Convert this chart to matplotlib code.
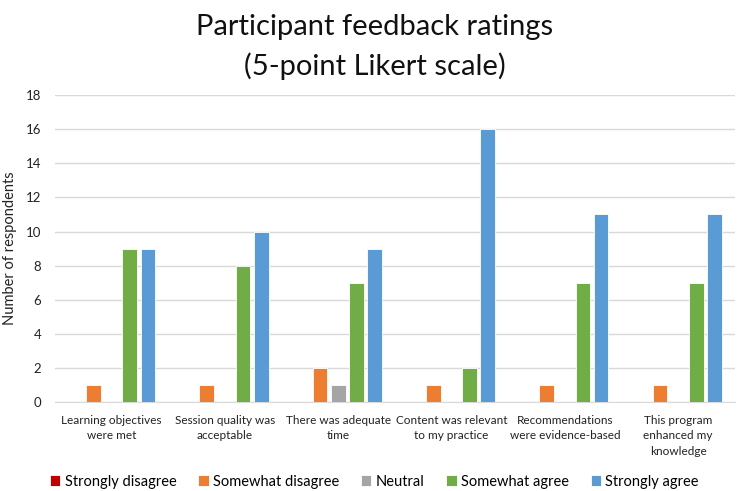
import numpy as np
import matplotlib.pyplot as plt

plt.rcParams['font.family'] = ['Lato', 'DejaVu Sans']

categories = ["Learning objectives\nwere met", "Session quality was\nacceptable",
              "There was adequate\ntime", "Content was relevant\nto my practice",
              "Recommendations\nwere evidence-based", "This program\nenhanced my\nknowledge"]
series_names = ["Strongly disagree", "Somewhat disagree", "Neutral", "Somewhat agree", "Strongly agree"]
strongly_disagree = [0, 0, 0, 0, 0, 0]
somewhat_disagree = [1, 1, 2, 1, 1, 1]
neutral = [0, 0, 1, 0, 0, 0]
somewhat_agree = [9, 8, 7, 2, 7, 7]
strongly_agree = [9, 10, 9, 16, 11, 11]
colors = ["#C00000", "#ED7D31", "#A5A5A5", "#70AD47", "#5B9BD5"]

fig = plt.figure(figsize=(7.49, 4.91), dpi=100)
ax = fig.add_axes([0.0734, 0.181, 0.9076, 0.6255])

x = np.arange(len(categories))
step = 0.16
width = 0.13
all_series = [strongly_disagree, somewhat_disagree, neutral, somewhat_agree, strongly_agree]
for i, (vals, name, c) in enumerate(zip(all_series, series_names, colors)):
    ax.bar(x + (i - 2) * step, vals, width, color=c, label=name,
           edgecolor="white", linewidth=0.6, zorder=3)

ax.set_xlim(-0.5, len(categories) - 0.5)
ax.set_ylim(0, 18)
ax.set_yticks(range(0, 19, 2))
ax.set_xticks(x)
ax.set_xticklabels(categories, fontsize=8.5, color="#222222", linespacing=1.5)
ax.tick_params(axis="y", labelsize=9.5, colors="#222222", length=0, pad=10)
ax.tick_params(axis="x", length=0, pad=9)
ax.grid(axis="y", color="#D9D9D9", linewidth=1, zorder=0)
for s in ["top", "right", "left"]:
    ax.spines[s].set_visible(False)
ax.spines["bottom"].set_color("#D9D9D9")
ax.set_ylabel("Number of respondents", fontsize=10.5, color="#222222", labelpad=6)

fig.suptitle("Participant feedback ratings\n(5-point Likert scale)", fontsize=21,
             y=0.972, color="#111111", linespacing=1.55)

fig.legend(loc="lower center", bbox_to_anchor=(0.5, -0.022), ncol=5, frameon=False,
           fontsize=10.5, handlelength=0.7, handleheight=0.7, handletextpad=0.3,
           columnspacing=1.5)

fig.savefig("out.png", dpi=100)
